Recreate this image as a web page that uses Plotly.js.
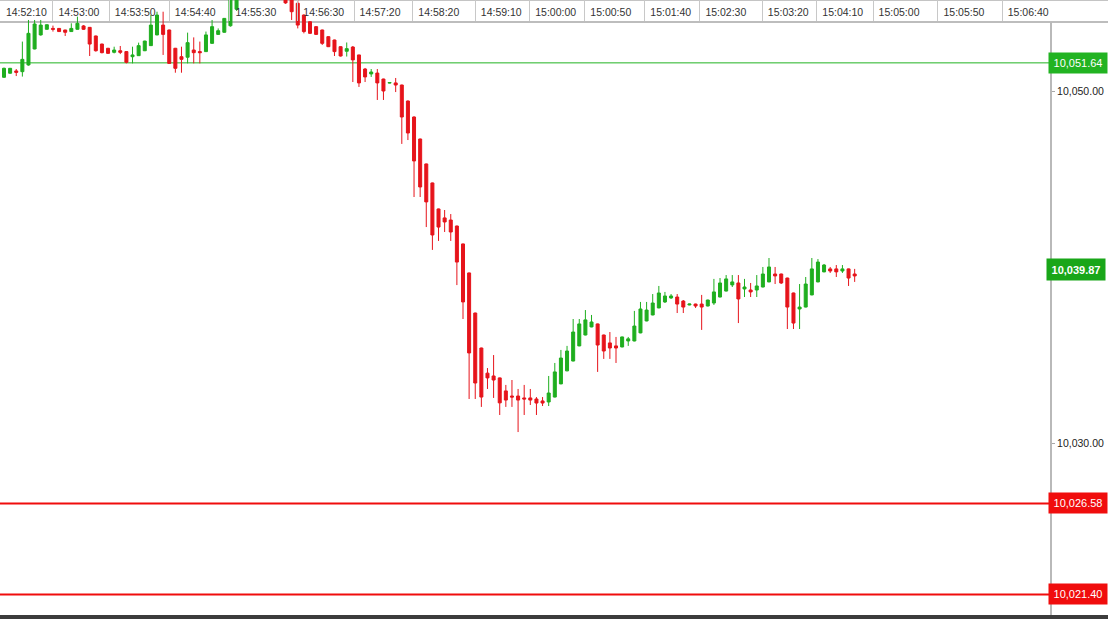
<!DOCTYPE html>
<html>
<head>
<meta charset="utf-8">
<script src="https://cdn.plot.ly/plotly-3.0.1.min.js"></script>
<style>
html, body { margin: 0; padding: 0; background: #fff; }
#chart { width: 1108px; height: 619px; }
</style>
</head>
<body>
<div id="chart"></div>
<script>
let open = [
10050.82,10051.05,10051.18,10051.14,10051.52,10052.43,10053.23,10053.55,10053.60,10053.60,
10053.51,10053.42,10053.55,10053.74,10053.66,10053.17,10052.71,10052.47,10052.24,10052.33,
10052.28,10051.99,10052.05,10052.33,10052.62,10053.23,10053.79,10053.51,10052.47,10051.99,
10051.96,10052.37,10052.28,10052.28,10052.75,10053.26,10053.38,10053.75,10054.69,10055.80,
10056.30,10056.90,10056.60,10057.00,10056.50,10056.20,10055.90,10055.60,10055.03,10054.36,
10053.98,10053.70,10053.51,10053.13,10052.94,10052.56,10052.30,10052.54,10052.09,10051.29,
10051.01,10051.06,10050.72,10050.49,10050.50,10050.38,10049.47,10048.56,10047.31,10045.89,
10044.81,10043.33,10042.82,10042.70,10042.36,10041.34,10039.69,10037.41,10035.42,10033.99,
10033.83,10033.72,10032.98,10032.69,10032.69,10032.58,10032.58,10032.52,10032.41,10032.35,
10032.63,10033.38,10034.12,10034.68,10035.54,10036.16,10036.62,10036.79,10036.16,10035.71,
10035.54,10035.48,10035.82,10035.82,10036.28,10036.96,10037.30,10037.70,10038.04,10038.27,
10038.32,10038.09,10037.87,10037.92,10037.92,10037.81,10037.98,10038.32,10038.66,10039.01,
10039.12,10038.78,10038.72,10038.72,10038.89,10039.18,10039.63,10039.63,10039.40,10038.55,
10037.64,10037.75,10038.44,10039.18,10039.75,10039.92,10039.92,10039.80,10039.92,10039.63
];
let high = [
10051.37,10051.35,10051.29,10052.85,10054.08,10054.08,10054.08,10053.83,10053.76,10053.62,
10053.52,10053.89,10054.27,10053.79,10053.68,10053.19,10052.73,10052.49,10052.56,10052.60,
10052.30,10052.56,10052.79,10052.90,10054.36,10054.55,10054.55,10053.53,10052.49,10052.56,
10053.36,10053.09,10052.85,10053.42,10054.08,10053.60,10054.19,10055.90,10056.10,10056.50,
10057.10,10057.20,10057.30,10057.10,10056.70,10056.40,10056.00,10055.90,10055.20,10054.40,
10054.00,10053.72,10053.53,10053.15,10052.96,10052.58,10052.80,10052.60,10052.10,10051.35,
10051.29,10051.29,10050.74,10050.54,10050.78,10050.40,10049.50,10048.60,10047.33,10045.91,
10044.83,10043.35,10043.27,10043.04,10042.38,10041.36,10039.71,10037.43,10035.44,10034.28,
10035.02,10033.74,10033.32,10033.60,10033.09,10033.32,10033.09,10032.63,10032.63,10033.83,
10034.57,10035.31,10035.54,10037.07,10037.07,10037.58,10037.30,10036.81,10036.18,10036.33,
10036.05,10036.07,10036.05,10037.53,10038.04,10038.04,10038.49,10038.95,10038.61,10038.49,
10038.49,10038.15,10037.94,10037.94,10038.44,10038.17,10039.35,10039.40,10039.57,10039.57,
10039.57,10039.35,10039.12,10039.57,10040.03,10040.54,10040.03,10039.65,10039.42,10038.57,
10039.06,10039.46,10040.54,10040.48,10040.20,10040.03,10040.14,10040.14,10039.94,10039.92
];
let low = [
10050.78,10051.03,10050.89,10050.86,10051.48,10052.41,10053.19,10053.53,10053.42,10053.40,
10053.17,10053.40,10053.53,10053.51,10052.03,10052.28,10052.18,10052.16,10052.18,10052.14,
10051.61,10051.61,10052.03,10052.31,10052.60,10053.21,10052.09,10051.59,10051.08,10051.08,
10051.61,10051.61,10051.61,10052.26,10052.73,10053.24,10053.36,10053.70,10054.60,10055.60,
10056.10,10056.40,10056.50,10056.30,10055.90,10055.70,10055.00,10054.08,10053.60,10053.32,
10053.28,10053.23,10052.66,10052.54,10052.03,10052.00,10052.00,10050.55,10050.27,10050.55,
10050.84,10049.53,10049.53,10050.47,10049.98,10047.03,10047.25,10044.01,10044.01,10042.30,
10041.00,10041.51,10042.02,10041.51,10039.00,10037.07,10032.52,10032.52,10032.07,10033.09,
10032.58,10031.61,10032.07,10032.07,10030.64,10031.61,10032.18,10031.61,10032.12,10032.12,
10032.61,10033.36,10034.10,10034.66,10035.52,10036.14,10036.60,10034.06,10034.80,10034.80,
10034.57,10035.46,10035.54,10035.80,10036.26,10036.94,10037.28,10037.68,10037.98,10038.21,
10037.41,10037.41,10037.85,10037.70,10036.45,10037.79,10037.87,10038.30,10038.64,10038.89,
10036.84,10038.32,10038.32,10038.32,10038.87,10039.16,10039.06,10039.06,10036.50,10036.50,
10036.50,10037.73,10038.42,10039.16,10039.73,10039.69,10039.46,10039.69,10038.95,10039.18
];
let close = [
10051.33,10051.33,10051.10,10051.84,10053.32,10053.85,10053.79,10053.81,10053.55,10053.42,
10053.38,10053.60,10053.89,10053.55,10052.71,10052.33,10052.22,10052.18,10052.37,10052.24,
10051.67,10052.09,10052.62,10052.88,10053.79,10054.36,10053.26,10051.61,10051.33,10051.84,
10052.79,10052.22,10052.22,10053.23,10053.70,10053.47,10054.17,10055.60,10055.90,10056.30,
10056.90,10056.60,10057.00,10056.50,10056.20,10055.90,10055.05,10054.55,10053.79,10053.42,
10053.32,10053.26,10052.75,10052.56,10052.28,10052.03,10052.45,10051.81,10050.50,10050.84,
10051.12,10050.50,10050.04,10050.52,10050.38,10048.56,10047.65,10046.06,10044.58,10043.73,
10041.85,10042.30,10042.59,10042.02,10040.31,10038.04,10035.14,10033.43,10032.63,10033.72,
10033.60,10032.30,10032.46,10032.63,10032.46,10032.52,10032.46,10032.29,10032.29,10032.86,
10034.06,10034.85,10035.25,10036.33,10036.79,10037.02,10036.90,10035.59,10035.25,10035.42,
10035.42,10036.05,10035.94,10036.67,10037.64,10037.58,10037.98,10038.55,10038.38,10038.38,
10037.92,10037.75,10037.92,10037.81,10037.75,10038.15,10038.61,10039.12,10039.35,10039.18,
10038.21,10038.89,10038.61,10038.95,10039.63,10040.03,10039.52,10039.12,10037.75,10036.84,
10037.75,10039.06,10039.92,10040.31,10040.14,10039.80,10039.75,10039.92,10039.40,10039.52
];

// time labels and where they sit, counted in candles from the first one
let tickText = ['14:52:10','14:53:00','14:53:50','14:54:40','14:55:30','14:56:30','14:57:20','14:58:20','14:59:10',
                '15:00:00','15:00:50','15:01:40','15:02:30','15:03:20','15:04:10','15:05:00','15:05:50','15:06:40'];
let tickAt = [-0.6, 8.0, 17.2, 27.0, 36.9, 48.0, 57.2, 66.8, 77.0, 85.9, 94.9, 104.7, 113.7, 123.9, 132.8, 142.0, 152.6, 163.1];

let resistance = [10051.64];
let support = [10026.58, 10021.40];
let lastPrice = 10039.87;
let priceTicks = [10030, 10050];

let seq = close.map((c, i) => i);

let GREEN = '#1fae1f';
let RED = '#e6141b';
let FONT = 'Liberation Sans, Arial, sans-serif';

let W = 1108, H = 619, R = 57, B = 4;
let plotW = W - R, plotH = H - B;
let headerY = 1 - 22 / plotH;

let fmt = v => v.toLocaleString('en-US', {minimumFractionDigits: 2, maximumFractionDigits: 2});

let trace = {
    type: 'candlestick',
    x: seq,
    open: open,
    high: high,
    low: low,
    close: close,
    hoverinfo: 'skip',
    increasing: {line: {color: GREEN, width: 1}, fillcolor: GREEN},
    decreasing: {line: {color: RED, width: 1}, fillcolor: RED}
};

let shapes = [
    // header underline
    {type: 'line', xref: 'paper', yref: 'paper', x0: 0, x1: W / plotW, y0: headerY, y1: headerY,
     line: {color: '#bdbdbd', width: 2}, layer: 'below'},
    // top border
    {type: 'line', xref: 'paper', yref: 'paper', x0: 0, x1: W / plotW, y0: 1, y1: 1,
     line: {color: '#8a8a8a', width: 1}, layer: 'below'},
    // price axis line
    {type: 'line', xref: 'paper', yref: 'paper', x0: 1, x1: 1, y0: 0, y1: headerY,
     line: {color: '#b9b9b9', width: 2}, layer: 'below'},
    // dark strip at the bottom
    {type: 'rect', xref: 'paper', yref: 'paper', x0: 0, x1: W / plotW, y0: -B / plotH, y1: 0,
     fillcolor: '#3c3c3c', line: {width: 0}}
];
let annotations = [];

function addLevel(p, color, width) {
    shapes.push({type: 'line', xref: 'paper', yref: 'y', x0: 0, x1: 1, y0: p, y1: p,
                 line: {color: color, width: width}, layer: 'below'});
    annotations.push({xref: 'paper', yref: 'y', x: 1048 / plotW, y: p, xanchor: 'left', yanchor: 'middle',
                      text: fmt(p), showarrow: false, bgcolor: color, borderpad: 3, width: 52, height: 14,
                      font: {family: FONT, size: 11, color: '#fff'}});
}
resistance.forEach(p => addLevel(p, '#22b322', 1));
support.forEach(p => addLevel(p, '#f00d0d', 2));

annotations.push({xref: 'paper', yref: 'y', x: 1046 / plotW, y: lastPrice, xanchor: 'left', yanchor: 'middle',
                  text: '<b>' + fmt(lastPrice) + '</b>', showarrow: false, bgcolor: '#19a619', borderpad: 3,
                  width: 52, height: 15, font: {family: FONT, size: 11, color: '#fff'}});

let layout = {
    width: W,
    height: H,
    margin: {l: 0, r: R, t: 0, b: B},
    paper_bgcolor: '#fff',
    plot_bgcolor: '#fff',
    showlegend: false,
    font: {family: FONT, size: 10.5, color: '#222'},
    xaxis: {
        type: 'linear',
        side: 'top',
        range: [-0.654, 171.08],
        showgrid: false,
        zeroline: false,
        showline: false,
        tickmode: 'array',
        tickvals: tickAt,
        ticktext: tickText,
        ticks: 'inside',
        ticklen: 21,
        tickwidth: 1,
        tickcolor: '#c8c8c8',
        ticklabelposition: 'inside',
        ticklabelshift: 26,
        ticklabelstandoff: -13,
        tickfont: {family: FONT, size: 10.5, color: '#333'},
        rangeslider: {visible: false},
        fixedrange: true
    },
    yaxis: {
        side: 'right',
        range: [10020.233, 10055.216],
        showgrid: false,
        zeroline: false,
        showline: false,
        tickmode: 'array',
        tickvals: priceTicks,
        tickformat: ',.2f',
        ticks: 'outside',
        ticklen: 3,
        tickcolor: '#a8a8a8',
        tickfont: {family: FONT, size: 10.5, color: '#222'},
        fixedrange: true
    },
    shapes: shapes,
    annotations: annotations
};

Plotly.newPlot('chart', [trace], layout, {displayModeBar: false, staticPlot: true});
</script>
</body>
</html>
